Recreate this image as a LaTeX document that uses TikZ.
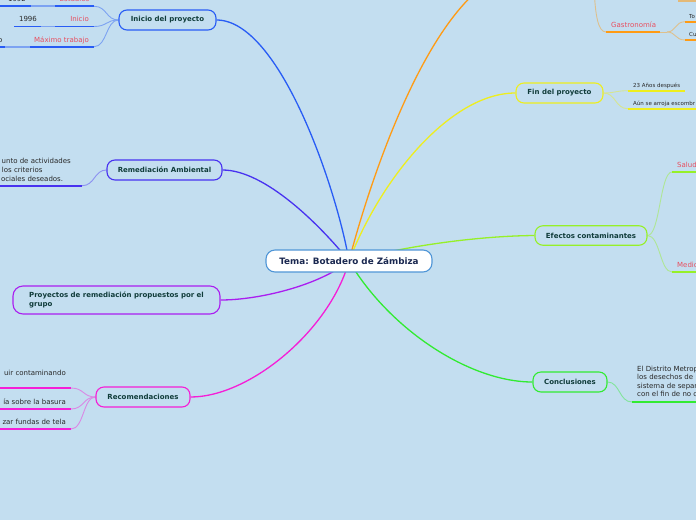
\documentclass[tikz,border=0pt]{standalone}
\usepackage{fontspec}
\setmainfont{DejaVu Sans}
\pgfdeclarelayer{bg}
\pgfsetlayers{bg,main}
\definecolor{bgc}{RGB}{195,222,240}
\definecolor{boxtxt}{RGB}{16,60,58}
\definecolor{maintxt}{RGB}{26,40,80}
\definecolor{txtc}{RGB}{40,40,40}
\definecolor{redc}{RGB}{232,78,95}
\definecolor{cMain}{RGB}{80,150,215}
\definecolor{cBlue}{RGB}{40,92,245}
\definecolor{cIndigo}{RGB}{72,50,240}
\definecolor{cViolet}{RGB}{170,30,240}
\definecolor{cMagenta}{RGB}{245,30,215}
\definecolor{cOrange}{RGB}{255,155,20}
\definecolor{cYellow}{RGB}{238,238,30}
\definecolor{cLime}{RGB}{150,240,40}
\definecolor{cGreen}{RGB}{50,235,50}
\begin{document}
\begin{tikzpicture}[x=1pt,y=-1pt,
  box/.style={draw, rounded corners=8pt, line width=1.1pt, fill=bgc, text=boxtxt,
    font=\fontsize{7}{9}\selectfont\bfseries, inner sep=0pt, minimum height=20pt, align=center},
  conn/.style={line width=1.3pt},
  sub/.style={line width=0.9pt},
  uline/.style={line width=1.8pt},
  lbl/.style={font=\fontsize{7}{9}\selectfont, text=txtc, inner sep=0pt},
  tinylbl/.style={font=\fontsize{5.5}{7}\selectfont, text=txtc, inner sep=0pt},
  rlbl/.style={font=\fontsize{7}{9}\selectfont, text=redc, inner sep=0pt},
]
\useasboundingbox (0,0) rectangle (696,520);

% ---------- boxes ----------
\node[box, draw=cMain, fill=white, text=maintxt, font=\fontsize{8.8}{10}\selectfont\bfseries,
  minimum width=166pt, minimum height=22pt, rounded corners=9pt] (main) at (349,261) {Tema: Botadero de Zámbiza};
\node[box, draw=cBlue, minimum width=97pt] (inicio) at (167.5,20) {Inicio del proyecto};
\node[box, draw=cIndigo, minimum width=115pt] (remed) at (164.5,170) {Remediación Ambiental};
\node[box, draw=cViolet, minimum width=207pt, minimum height=28pt, align=left, rounded corners=10pt, inner xsep=16pt]
  (proy) at (116.5,300) {Proyectos de remediación propuestos por el\\grupo};
\node[box, draw=cMagenta, minimum width=94pt] (recom) at (143,397) {Recomendaciones};
\node[box, draw=cYellow, minimum width=87pt] (fin) at (559.5,93) {Fin del proyecto};
\node[box, draw=cLime, minimum width=112pt, minimum height=19.5pt] (efect) at (591,235.5) {Efectos contaminantes};
\node[box, draw=cGreen, minimum width=74pt] (concl) at (570,382) {Conclusiones};

% ---------- labels: Inicio ----------
\node[lbl, anchor=base] (y1992) at (17,1.7) {1992};
\node[rlbl, anchor=base east] (estud) at (89.5,1.7) {Estudios};
\node[lbl, anchor=base] (y1996) at (28,21.9) {1996};
\node[rlbl, anchor=base east] (inic) at (89,21.9) {Inicio};
\node[lbl, anchor=base east] (y3) at (2.5,42.1) {o};
\node[rlbl, anchor=base east] (maxt) at (89,42.1) {Máximo trabajo};
\coordinate (u1a) at (-2,6.3); \coordinate (u1b) at (31,6.3); \coordinate (u1c) at (55,6.3); \coordinate (u1d) at (94,6.3);
\coordinate (u2a) at (14,26.5); \coordinate (u2b) at (41,26.5); \coordinate (u2c) at (55,26.5); \coordinate (u2d) at (94,26.5);
\coordinate (u3a) at (-5,46.7); \coordinate (u3b) at (5,46.7); \coordinate (u3c) at (30,46.7); \coordinate (u3d) at (94,46.7);

% ---------- labels: Remediacion ----------
\node[lbl, anchor=base east] (r1) at (71,163) {unto de actividades};
\node[lbl, anchor=base east] (r2) at (42.7,172) {los criterios};
\node[lbl, anchor=base east] (r3) at (63.3,181) {ociales deseados.};
\coordinate (ra) at (-2,185.7); \coordinate (rb) at (82,185.7);

% ---------- labels: Recomendaciones ----------
\node[lbl, anchor=base east] (k1) at (66,375.5) {uir contaminando};
\node[lbl, anchor=base east] (k2) at (66,404.3) {ía sobre la basura};
\node[lbl, anchor=base east] (k3) at (66,424.6) {zar fundas de tela};
\coordinate (k1a) at (-2,388); \coordinate (k1b) at (71,388);
\coordinate (k2a) at (-2,409); \coordinate (k2b) at (71,409);
\coordinate (k3a) at (-2,429); \coordinate (k3b) at (71,429);

% ---------- labels: orange branch ----------
\coordinate (otop) at (525,-30);
\coordinate (gpar) at (594,-15);
\node[rlbl, anchor=base west] (gastro) at (611,27.4) {Gastronomía};
\coordinate (ga) at (606,32); \coordinate (gb) at (660,32); \coordinate (gc) at (667,32);
\node[tinylbl, anchor=base west] (to) at (689,18) {To};
\node[tinylbl, anchor=base west] (cu) at (689,36.5) {Cu};
\coordinate (ta) at (685,21.7); \coordinate (tb) at (700,21.7);
\coordinate (ca) at (685,40); \coordinate (cb) at (700,40);
\coordinate (topa) at (678,0.8); \coordinate (topb) at (700,0.8);

% ---------- labels: Fin ----------
\node[tinylbl, anchor=base west] (f1) at (633,87) {23 Años después};
\node[tinylbl, anchor=base west] (f2) at (633,105) {Aún se arroja escombr};
\coordinate (f1a) at (628,90.7); \coordinate (f1b) at (685,90.7);
\coordinate (f2a) at (628,108.7); \coordinate (f2b) at (700,108.7);

% ---------- labels: Efectos ----------
\node[rlbl, anchor=base west] (salud) at (677,167.4) {Salud};
\node[rlbl, anchor=base west] (medio) at (677,267.4) {Medio};
\coordinate (sa) at (672,172); \coordinate (sb) at (700,172);
\coordinate (ma) at (672,272); \coordinate (mb) at (700,272);

% ---------- labels: Conclusiones ----------
\node[lbl, anchor=base west] (c1) at (637,371) {El Distrito Metrop};
\node[lbl, anchor=base west] (c2) at (637,379.5) {los desechos de};
\node[lbl, anchor=base west] (c3) at (637,388) {sistema de separ};
\node[lbl, anchor=base west] (c4) at (637,396.5) {con el fin de no c};
\coordinate (za) at (632,402); \coordinate (zb) at (700,402);

\begin{pgfonlayer}{bg}
\fill[bgc] (0,0) rectangle (696,520);
% main branches
\draw[conn,cBlue] (main.center) .. controls (337,190) and (280,20) .. (inicio.east);
\draw[conn,cIndigo] (main.center) .. controls (320,225) and (265,170) .. (remed.east);
\draw[conn,cViolet] (main.center) .. controls (320,285) and (260,300) .. (proy.east);
\draw[conn,cMagenta] (main.center) .. controls (330,330) and (250,397) .. (recom.east);
\draw[conn,cOrange] (main.center) .. controls (372,172) and (440,-30) .. (otop);
\draw[conn,cYellow] (main.center) .. controls (380,180) and (450,93) .. (fin.west);
\draw[conn,cLime] (main.center) .. controls (410,245) and (480,236) .. (efect.west);
\draw[conn,cGreen] (main.center) .. controls (390,330) and (470,382) .. (concl.west);

% Inicio subtree
\draw[sub,cBlue!45!bgc] (u1d) .. controls (107,6.3) and (106,20) .. (inicio.west);
\draw[sub,cBlue!45!bgc] (u2d) .. controls (107,26.5) and (106,20) .. (inicio.west);
\draw[sub,cBlue!45!bgc] (u3d) .. controls (107,46.7) and (106,20) .. (inicio.west);
\draw[uline,cBlue!45!bgc] (u1b) -- (u1c); \draw[uline,cBlue!45!bgc] (u2b) -- (u2c); \draw[uline,cBlue!45!bgc] (u3b) -- (u3c);
\draw[uline,cBlue] (u1a) -- (u1b); \draw[uline,cBlue] (u1c) -- (u1d);
\draw[uline,cBlue] (u2a) -- (u2b); \draw[uline,cBlue] (u2c) -- (u2d);
\draw[uline,cBlue] (u3a) -- (u3b); \draw[uline,cBlue] (u3c) -- (u3d);

% Remediacion subtree
\draw[sub,cIndigo!45!bgc] (rb) .. controls (95,185.7) and (94,170) .. (remed.west);
\draw[uline,cIndigo] (ra) -- (rb);

% Recomendaciones subtree
\draw[sub,cMagenta!45!bgc] (k1b) .. controls (84,388) and (83,397) .. (recom.west);
\draw[sub,cMagenta!45!bgc] (k2b) .. controls (84,409) and (83,397) .. (recom.west);
\draw[sub,cMagenta!45!bgc] (k3b) .. controls (84,429) and (83,397) .. (recom.west);
\draw[uline,cMagenta] (k1a) -- (k1b); \draw[uline,cMagenta] (k2a) -- (k2b); \draw[uline,cMagenta] (k3a) -- (k3b);

% orange subtree
\draw[sub,cOrange!45!bgc] (ga) .. controls (598,32) and (595,15) .. (gpar);
\draw[sub,cOrange!45!bgc] (gb) -- (gc);
\draw[sub,cOrange!45!bgc] (gc) .. controls (676,32) and (675,21.7) .. (ta);
\draw[sub,cOrange!45!bgc] (gc) .. controls (676,32) and (675,40) .. (ca);
\draw[uline,cOrange] (ga) -- (gb);
\draw[uline,cOrange] (ta) -- (tb);
\draw[uline,cOrange] (ca) -- (cb);
\draw[uline,cOrange!55!bgc] (topa) -- (topb);

% Fin subtree
\draw[sub,cYellow!45!bgc] (fin.east) .. controls (616,93) and (615,90.7) .. (f1a);
\draw[sub,cYellow!45!bgc] (fin.east) .. controls (616,93) and (615,108.7) .. (f2a);
\draw[uline,cYellow] (f1a) -- (f1b);
\draw[uline,cYellow] (f2a) -- (f2b);

% Efectos subtree
\draw[sub,cLime!45!bgc] (efect.east) .. controls (660,235.5) and (660,172) .. (sa);
\draw[sub,cLime!45!bgc] (efect.east) .. controls (660,235.5) and (660,272) .. (ma);
\draw[uline,cLime] (sa) -- (sb);
\draw[uline,cLime] (ma) -- (mb);

% Conclusiones subtree
\draw[sub,cGreen!45!bgc] (concl.east) .. controls (620,382) and (619,402) .. (za);
\draw[uline,cGreen] (za) -- (zb);
\end{pgfonlayer}
\end{tikzpicture}
\end{document}
